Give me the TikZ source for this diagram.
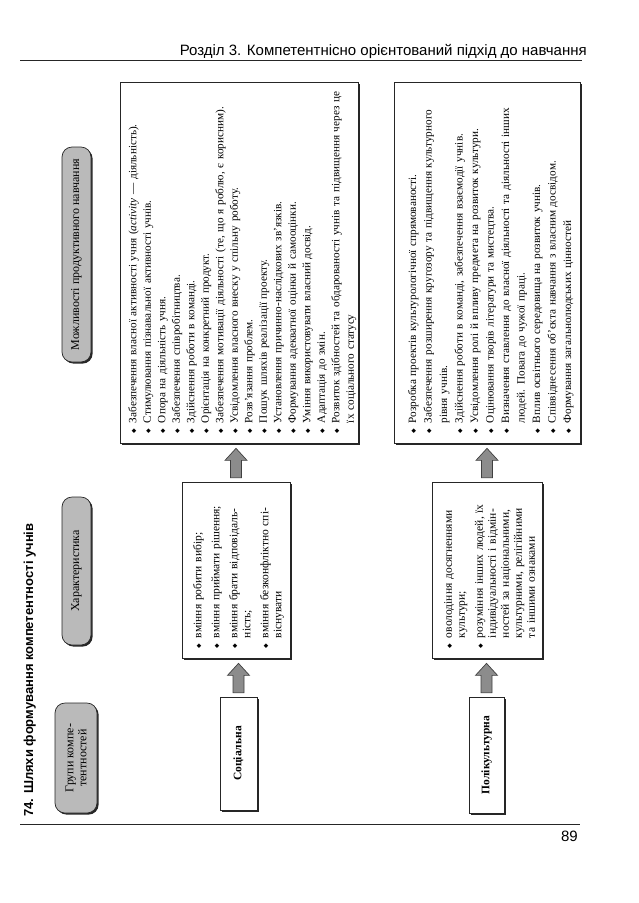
\documentclass[tikz,border=0pt]{standalone}
\usepackage{fontspec}
\setmainfont{Liberation Serif}
\setsansfont{Liberation Sans}
\newfontfamily\symfont{DejaVu Sans}
\usetikzlibrary{calc}
\newcommand\dmd{{\symfont\fontsize{6}{6}\selectfont\raisebox{0.6pt}{◆}}}
\newenvironment{dlist}[1][0pt]{\begin{list}{\dmd}{\setlength\leftmargin{14pt}\setlength\labelwidth{8pt}\setlength\labelsep{6pt}\setlength\itemsep{#1}\setlength\parsep{0pt}\setlength\topsep{0pt}\setlength\partopsep{0pt}}\raggedright}{\end{list}}
\tikzset{
  every node/.style={inner sep=0pt},
  shadowed/.style={preaction={fill=black!85, transform canvas={shift={(1.6pt,-1.6pt)}}}},
  listbox/.style={draw=black!85, line width=0.7pt, fill=white, shadowed, rotate=90, inner xsep=6pt},
  bigfont/.style={font=\fontsize{11.2}{14.5}\selectfont},
  midfont/.style={font=\fontsize{11.2}{15.5}\selectfont},
  smallfont/.style={font=\fontsize{11.5}{13}\selectfont},
  pill/.style={draw=black!85, line width=0.7pt, fill=black!27, shadowed, rounded corners=10pt, rotate=90, align=center, font=\fontsize{12}{13}\selectfont},
  groupbox/.style={draw=black!85, line width=0.7pt, fill=white, shadowed, rotate=90, align=center, font=\bfseries\fontsize{11.5}{13}\selectfont},
  blockarrow/.style={draw=black!75, fill=black!45, line width=0.7pt,
    to path={let \p1=(\tikztostart), \p2=(\tikztotarget) in
      (\x1-5.5pt,\y1+4pt) -- (\x1-5.5pt,\y2-17pt) -- (\x1-11pt,\y2-17pt) -- (\x1,\y2-5pt)
      -- (\x1+11pt,\y2-17pt) -- (\x1+5.5pt,\y2-17pt) -- (\x1+5.5pt,\y1+4pt) -- cycle}},
  rule/.style={line width=0.8pt, black!85},
  headfont/.style={font=\sffamily\fontsize{15}{17}\selectfont}
}
\begin{document}
\begin{tikzpicture}[x=1pt,y=-1pt]
\useasboundingbox (0,0) rectangle (638,903);
% header and footer
\node[headfont, anchor=base east] (hdr) at (587,55) {Розділ 3. Компетентнісно орієнтований підхід до навчання};
\draw[rule] (20,60) -- (582,60);
\draw[rule] (20,824) -- (580,824);
\node[headfont, anchor=base east] (pg) at (578,841) {89};
% title
\node[rotate=90, anchor=base west, font=\sffamily\bfseries\fontsize{13}{15}\selectfont] (title) at (33,817) {74. Шляхи формування компетентності учнів};
% pills
\node[pill, minimum width=215pt, minimum height=29pt] (p3) at (76.5,254.5) {Можливості продуктивного навчання};
\node[pill, minimum width=148pt, minimum height=29pt] (p2) at (76.5,571) {Характеристика};
\node[pill, minimum width=110pt, minimum height=42pt] (p1) at (76,758) {Групи компе-\\тентностей};
% big boxes
\node[listbox, bigfont, minimum width=361pt, minimum height=238pt, text width=349pt] (b1) at (239,262.5) {\begin{dlist}
\item Забезпечення власної активності учня (\textit{activity} — діяльність).
\item Стимулювання пізнавальної активності учнів.
\item Опора на діяльність учня.
\item Забезпечення співробітництва.
\item Здійснення роботи в команді.
\item Орієнтація на конкретний продукт.
\item Забезпечення мотивації діяльності (те, що я роблю, є корисним).
\item Усвідомлення власного внеску у спільну роботу.
\item Розв’язання проблем.
\item Пошук шляхів реалізації проекту.
\item Установлення причинно-наслідкових зв’язків.
\item Формування адекватної оцінки й самооцінки.
\item Уміння використовувати власний досвід.
\item Адаптація до змін.
\item Розвиток здібностей та обдарованості учнів та підвищення через це\\ їх соціального статусу
\end{dlist}};
\node[listbox, midfont, minimum width=361pt, minimum height=186pt, text width=349pt] (b2) at (487,262.5) {\begin{dlist}
\item Розробка проектів культурологічної спрямованості.
\item Забезпечення розширення кругозору та підвищення культурного\\ рівня учнів.
\item Здійснення роботи в команді, забезпечення взаємодії учнів.
\item Усвідомлення ролі й впливу предмета на розвиток культури.
\item Оцінювання творів літератури та мистецтва.
\item Визначення ставлення до власної діяльності та діяльності інших\\ людей. Повага до чужої праці.
\item Вплив освітнього середовища на розвиток учнів.
\item Співвіднесення об’єкта навчання з власним досвідом.
\item Формування загальнолюдських цінностей
\end{dlist}};
% characteristic boxes
\node[listbox, smallfont, minimum width=176pt, minimum height=108pt, text width=164pt] (c1) at (236,570) {\begin{dlist}[5pt]
\item вміння робити вибір;
\item вміння приймати рішення;
\item вміння брати відповідаль-\\ність;
\item вміння безконфліктно спі-\\віснувати
\end{dlist}};
\node[listbox, smallfont, minimum width=176pt, minimum height=110pt, text width=164pt] (c2) at (487,570) {\begin{dlist}[5pt]
\item оволодіння досягненнями\\ культури;
\item розуміння інших людей, їх\\ індивідуальності і відмін-\\ностей за національними,\\ культурними, релігійними\\ та іншими ознаками
\end{dlist}};
% group boxes
\node[groupbox, minimum width=113pt, minimum height=37pt] (g1) at (238.5,753.5) {Соціальна};
\node[groupbox, minimum width=116pt, minimum height=35pt] (g2) at (486.5,755) {Полікультурна};
% arrows
\draw[blockarrow] (g1.east) to (c1.west);
\draw[blockarrow] (c1.east) to (b1.west);
\draw[blockarrow] (g2.east) to (c2.west);
\draw[blockarrow] (c2.east) to (b2.west);
\end{tikzpicture}
\end{document}
